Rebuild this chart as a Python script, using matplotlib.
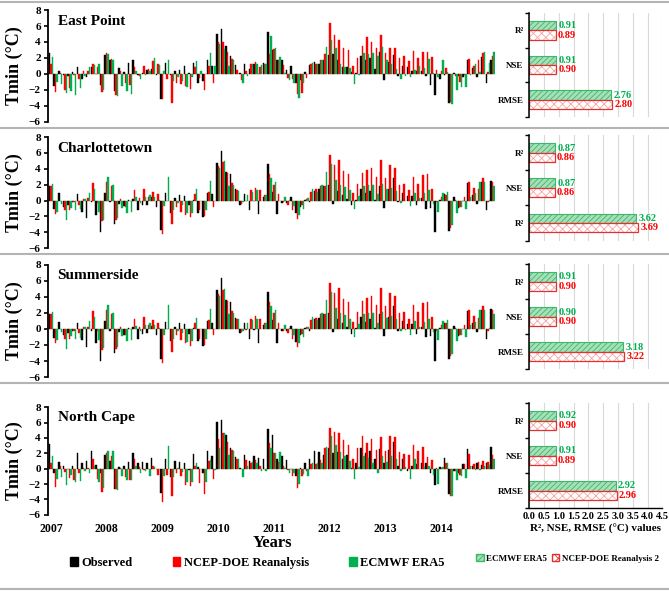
import matplotlib
matplotlib.use('Agg')
import matplotlib.pyplot as plt
from matplotlib.patches import Patch
from matplotlib.lines import Line2D
import numpy as np

plt.rcParams['font.family'] = ['Liberation Serif', 'DejaVu Serif']
plt.rcParams['font.weight'] = 'bold'
plt.rcParams['hatch.linewidth'] = 0.6

# Monthly Tmin anomalies (2007-2014), 96 months per series
years = ['2007', '2008', '2009', '2010', '2011', '2012', '2013', '2014']

ep_obs = [2.6, -1.5, 0.3, -0.1, -0.3, 0.2, 0.9, -0.7, -0.4, 0.9, 0.0, -1.4,
          2.4, 1.7, -2.2, 0.7, 0.2, 1.4, 1.8, -0.2, 0.1, 0.5, 0.6, -0.1,
          -3.1, 1.4, -0.2, 0.3, 0.5, 1.0, 0.1, 1.4, -1.1, -0.9, 1.7, 1.0,
          5.0, 5.6, 3.5, 2.3, 1.1, 0.1, 1.3, 0.6, 1.3, 0.0, 1.4, 5.3,
          3.0, 1.7, 1.7, 0.5, 1.0, -1.1, -0.8, 0.2, 1.1, 1.5, 1.2, 1.8,
          2.4, 2.5, 1.8, 0.9, 0.8, 0.2, 0.1, 2.3, 1.7, 2.0, 0.6, 2.7,
          -0.8, 1.5, 2.4, -0.3, 1.0, 0.9, 0.4, 0.4, 0.4, -0.3, -1.4, -2.7,
          -0.7, -0.1, -3.6, 0.1, -0.3, -0.4, 1.8, 0.7, -0.4, 2.1, -1.2, 1.7]
ep_ncep = [1.2, -2.3, 0.1, -2.0, -1.8, -0.1, -0.7, 0.4, 0.3, 1.3, 0.8, -2.3,
           2.6, 1.9, -2.6, 0.3, -1.2, -1.4, 0.9, -0.3, 1.0, 0.6, 1.6, 1.3,
           -3.1, -0.7, -3.6, -1.2, -1.3, -1.5, -1.9, 0.8, -0.5, -2.0, 1.0, -1.1,
           4.0, 4.0, 2.8, 1.9, 0.5, -0.8, 0.3, 1.2, 1.5, 0.8, 1.3, 2.5,
           3.1, 1.7, 1.1, -0.5, -0.6, -2.5, -2.4, -0.5, 1.2, 1.3, 1.8, 2.5,
           6.4, 4.9, 4.2, 3.2, 3.0, 1.0, 2.0, 3.5, 4.6, 4.0, 3.3, 4.9,
           2.6, 3.3, 3.2, 2.0, 2.2, 1.6, 2.9, 2.0, 2.7, 2.8, 2.1, 0.5,
           0.3, 0.7, -3.5, -0.3, -1.0, -0.2, 1.9, 1.0, 1.8, 2.6, 0.2, 2.3]
ep_era5 = [2.1, -1.0, -1.3, -2.4, -2.2, -2.6, -1.8, -0.3, 0.8, 1.1, 1.2, -2.0,
           2.5, 1.8, -2.8, -1.5, -2.1, -2.5, 0.4, -0.7, -0.2, 0.4, 2.0, 1.1,
           0.3, 1.7, -0.9, -0.4, -0.9, -1.7, -0.4, 1.6, 0.4, 0.0, 2.6, 1.0,
           3.7, 3.1, 1.0, 1.7, 0.0, -1.2, -0.3, 1.2, 1.3, 1.1, 1.2, 4.7,
           3.2, 2.1, 0.1, -0.8, -1.2, -3.0, -1.2, 0.0, 1.4, 1.2, 1.7, 3.4,
           4.2, 3.2, 1.3, 0.9, 0.7, -1.3, -0.2, 2.6, 2.5, 2.6, 2.3, 3.4,
           1.7, 1.3, 0.6, -0.6, -0.3, -0.4, 0.5, 1.0, 0.7, 1.9, 0.1, -0.4,
           1.7, 0.2, -3.8, -2.0, -1.7, -1.7, -0.2, 1.2, 0.2, 2.8, 1.4, 2.8]

ch_obs = [1.9, -1.1, 0.9, -0.8, -0.5, -0.2, 0.8, -1.4, -2.2, -0.2, -1.8, -4.0,
          1.0, -0.2, -3.0, -0.4, -0.7, 0.1, 0.2, -1.2, -0.6, -0.5, 0.4, -0.8,
          -3.7, 0.9, -1.5, 0.3, 0.7, 0.6, -0.6, 0.1, -1.5, -2.1, 1.0, 0.8,
          4.8, 6.3, 3.6, 3.3, 1.4, -0.5, 0.8, -1.2, -0.1, -1.7, 0.5, 4.6,
          1.1, -1.7, -0.3, -0.3, 0.4, -1.6, -0.8, 0.1, -0.2, 1.2, 1.4, 1.9,
          2.0, -0.4, 1.2, 0.7, 0.2, -0.6, 0.1, 1.5, 0.9, 1.2, 0.1, 1.9,
          -0.9, 1.5, 2.9, -0.2, 1.0, 0.6, 0.6, -0.6, 0.3, -1.0, -0.9, -4.0,
          0.1, 0.8, -3.8, 0.4, -0.9, 0.0, 2.2, 0.7, -0.4, 2.4, -1.2, 2.5]
ch_ncep = [1.9, -1.7, 0.0, -1.2, -1.2, -0.2, -0.5, 0.2, 0.3, 2.2, -0.3, -2.6,
           2.3, 1.9, -2.5, 0.2, -0.8, 0.0, 1.3, 0.3, 1.5, 0.5, 1.1, 0.8,
           -4.2, 0.0, -2.9, -0.8, -1.4, -1.8, -2.1, 0.8, -1.2, -2.0, 1.1, -0.8,
           4.3, 4.9, 3.5, 2.2, 1.3, -0.4, -0.1, 1.3, 1.6, 1.3, 0.7, 3.3,
           2.0, 0.8, -0.2, -0.5, -1.2, -2.3, -0.6, 0.2, 1.1, 1.4, 1.9, 1.9,
           5.7, 4.5, 5.1, 3.7, 3.3, 0.9, 2.1, 3.5, 3.8, 4.1, 3.0, 5.1,
           2.8, 4.5, 4.1, 2.0, 2.1, 1.3, 3.0, 2.1, 3.2, 3.3, 1.5, -0.2,
           0.5, 0.7, -3.4, 0.1, -0.8, 0.5, 2.3, 1.6, 1.4, 2.8, -0.2, 2.4]
ch_era5 = [2.1, -1.4, -0.4, -2.5, -0.9, -1.2, -1.1, 0.2, 1.0, 1.5, -1.4, -2.4,
           3.0, 2.0, -2.2, -0.9, -1.5, -1.4, 0.4, -0.3, 0.5, 0.7, 0.5, 0.1,
           -0.7, 3.0, -1.2, -0.3, -0.5, -1.6, -1.5, 1.4, 0.0, -1.2, 2.5, 0.0,
           4.1, 5.0, 1.8, 2.0, 1.2, -0.2, 0.7, 1.1, 1.3, 0.0, 0.7, 2.8,
           2.4, 0.0, 0.5, 0.1, -0.7, -1.8, -1.0, 0.3, 1.5, 1.1, 2.0, 3.6,
           4.6, 2.6, 2.0, 1.7, 1.3, -1.0, 0.6, 1.9, 2.0, 2.0, 0.8, 2.1,
           1.4, 1.6, 1.2, -0.3, -0.1, -0.7, 1.0, 0.3, 0.9, 1.3, -0.4, -1.4,
           1.0, 1.1, -3.1, -1.5, -0.8, -1.0, 0.5, 0.9, 2.4, 2.3, 0.1, 1.8]

# Summerside bars look the same as Charlottetown in the source figure
su_obs = list(ch_obs)
su_ncep = list(ch_ncep)
su_era5 = list(ch_era5)

nc_obs = [3.2, -0.5, 0.9, 0.3, 0.0, 0.3, 2.0, 0.8, 1.0, 2.3, 0.5, -0.5,
          1.8, 1.0, -2.6, 0.2, 0.4, 0.9, 2.1, 0.7, 0.9, 0.8, 1.4, -0.1,
          -3.2, 1.2, -1.1, 1.0, 0.9, 0.7, -0.2, 1.9, 0.2, -0.6, 2.3, 1.7,
          6.1, 6.3, 4.4, 2.7, 1.5, 0.1, 1.8, 1.0, 1.6, 1.4, 1.3, 5.2,
          4.4, 1.2, 1.6, 1.1, 0.0, -0.9, 0.1, 0.8, 1.3, 2.3, 2.2, 1.8,
          2.7, 2.0, 2.2, 1.2, 1.8, 0.1, 0.8, 2.7, 2.1, 2.3, 1.2, 2.5,
          0.8, 2.4, 3.5, 0.4, 1.2, -0.3, 0.3, 0.6, 0.8, 0.7, -0.5, -2.1,
          0.2, 1.4, -3.3, -0.3, -0.5, 0.6, 2.6, 0.3, 0.7, 0.5, 0.8, 2.8]
nc_ncep = [0.8, -2.4, 0.3, -0.4, -1.2, -1.5, -0.5, 0.1, 0.1, 1.3, -1.3, -3.0,
           2.0, 1.6, -2.7, 0.1, -1.1, -1.5, 1.2, 0.2, -0.2, 0.0, 0.4, -0.8,
           -4.4, -0.8, -3.5, -0.5, -0.9, -2.1, -2.3, 0.4, -1.9, -3.3, 1.0, -1.3,
           3.8, 4.6, 3.5, 2.4, 1.3, 0.0, 1.1, 0.7, 1.1, 0.4, 0.0, 3.4,
           2.0, 0.9, 0.3, -0.2, -0.9, -2.5, -1.0, -0.3, 0.6, 0.6, 1.1, 2.7,
           5.3, 4.8, 4.7, 3.7, 3.1, 1.3, 2.7, 4.2, 3.4, 3.8, 2.4, 4.1,
           2.3, 4.3, 4.1, 2.2, 1.9, 1.8, 3.1, 2.3, 2.8, 1.5, 1.1, 0.1,
           0.1, 0.8, -3.5, -0.3, -0.8, 0.6, 1.9, 0.6, 0.9, 1.0, 0.9, 1.8]
nc_era5 = [1.6, -1.4, -1.1, -2.1, -0.8, -1.8, -1.6, -0.3, -0.6, 0.4, -1.8, -2.5,
           2.3, 2.3, -2.8, -0.9, -1.5, -1.5, 0.3, -0.5, -0.3, -0.9, 0.2, -0.1,
           -0.9, 3.0, -1.1, 0.1, -0.4, -1.7, -1.7, 0.7, 0.0, -1.8, 1.1, -0.2,
           2.7, 4.7, 1.8, 2.3, 1.2, -1.1, 0.4, 0.9, 0.8, -0.3, -0.3, 2.7,
           2.0, 2.2, 0.1, -0.6, -0.6, -2.0, -0.7, -0.9, 0.8, 0.8, 0.7, 2.8,
           4.2, 3.1, 2.2, 1.6, 1.0, -1.3, 0.2, 1.6, 1.4, 0.8, -0.5, 1.6,
           0.9, 1.7, 1.3, -0.3, 0.2, -1.3, 1.2, -0.1, 0.2, 0.3, -0.8, -2.0,
           0.2, 0.8, -3.6, -1.5, -1.0, -1.2, 0.4, -0.2, -0.2, 0.3, 0.5, 1.2]

# Performance statistics (R2, NSE, RMSE)
stat_labels = ['R²', 'NSE', 'RMSE']
stat_labels_ch = ['R²', 'NSE', 'R²']
ep_stats_era5 = [0.91, 0.91, 2.76]
ep_stats_ncep = [0.89, 0.90, 2.80]
ch_stats_era5 = [0.87, 0.87, 3.62]
ch_stats_ncep = [0.86, 0.86, 3.69]
su_stats_era5 = [0.91, 0.90, 3.18]
su_stats_ncep = [0.90, 0.90, 3.22]
nc_stats_era5 = [0.92, 0.91, 2.92]
nc_stats_ncep = [0.90, 0.89, 2.96]

C_OBS = 'black'
C_NCEP = '#ff0000'
C_ERA5 = '#00b050'
ERA_FACE = '#a6dfb8'
ERA_EDGE = '#3cb86a'
NCEP_HATCH = '#f4a6a6'
NCEP_EDGE = '#e53030'


def draw_series(ax, obs, ncep, era5, name, last=False):
    x = np.arange(len(obs))
    w = 0.32
    ax.bar(x - w, obs, w, color=C_OBS, edgecolor=C_OBS, linewidth=0.3)
    ax.bar(x, ncep, w, color=C_NCEP, edgecolor=C_NCEP, linewidth=0.3)
    ax.bar(x + w, era5, w, color=C_ERA5, edgecolor=C_ERA5, linewidth=0.3)
    ax.set_xlim(-0.7, 95.6)
    ax.set_ylim(-6, 8)
    ax.set_yticks(range(-6, 9, 2))
    for s in ['top', 'right', 'bottom']:
        ax.spines[s].set_visible(False)
    ax.spines['left'].set_linewidth(1.3)
    ax.tick_params(axis='y', direction='out', length=3, width=1.2, labelsize=8, pad=2)
    ax.set_ylabel('Tmin (°C)', fontsize=13, fontweight='bold', labelpad=4)
    ax.text(0.022, 0.9, name, transform=ax.transAxes, fontsize=11,
            fontweight='bold', va='center')
    if last:
        ax.set_xticks(np.arange(len(years)) * 12)
        ax.set_xticklabels(years, fontsize=8.5, fontweight='bold')
        ax.tick_params(axis='x', length=0, pad=6)
    else:
        ax.set_xticks([])


def draw_stats(ax, era5_vals, ncep_vals, labels, last=False):
    y = np.arange(3)
    h = 0.27
    ax.set_axisbelow(True)
    ax.grid(axis='x', color='#d9d9d9', linewidth=0.8)
    ax.barh(y - h / 2, era5_vals, h, color=ERA_FACE, edgecolor=ERA_EDGE,
            hatch='//////', linewidth=0.8)
    ax.barh(y + h / 2, ncep_vals, h, color='white', edgecolor=NCEP_HATCH,
            hatch='xxxx', linewidth=0)
    ax.barh(y + h / 2, ncep_vals, h, fill=False, edgecolor=NCEP_EDGE, linewidth=0.9)
    for i in range(3):
        ax.text(era5_vals[i] + 0.08, y[i] - h / 2, f'{era5_vals[i]:.2f}', color=C_ERA5,
                va='center', fontsize=7.5, fontweight='bold')
        ax.text(ncep_vals[i] + 0.08, y[i] + h / 2, f'{ncep_vals[i]:.2f}', color=C_NCEP,
                va='center', fontsize=7.5, fontweight='bold')
    ax.set_xlim(0, 4.5)
    ax.set_ylim(2.5, -0.5)
    ax.set_yticks([-0.5, 0.5, 1.5, 2.5])
    ax.set_yticklabels([])
    ax.set_yticks(y, minor=True)
    ax.set_yticklabels(labels, minor=True, fontsize=6.5, fontweight='bold')
    ax.tick_params(axis='y', which='major', direction='out', length=3, width=1)
    ax.tick_params(axis='y', which='minor', length=0, pad=4)
    ax.spines['top'].set_visible(False)
    ax.spines['right'].set_visible(False)
    ax.spines['left'].set_linewidth(1.1)
    ax.set_xticks(np.arange(0, 4.51, 0.5))
    if last:
        ax.spines['bottom'].set_linewidth(1.0)
        ax.set_xticklabels([f'{v:.1f}' for v in np.arange(0, 4.51, 0.5)],
                           fontsize=7.5, fontweight='bold')
        ax.tick_params(axis='x', length=0, pad=3)
        ax.set_xlabel('R², NSE, RMSE (°C) values', fontsize=8, fontweight='bold', labelpad=2)
    else:
        ax.spines['bottom'].set_visible(False)
        ax.set_xticklabels([])
        ax.tick_params(axis='x', length=0)


fig = plt.figure(figsize=(6.69, 5.91), dpi=100)

left_rects = [[0.0713, 0.794, 0.669, 0.189],
              [0.0713, 0.580, 0.669, 0.188],
              [0.0713, 0.362, 0.669, 0.190],
              [0.0713, 0.129, 0.669, 0.182]]
right_rects = [[0.791, 0.802, 0.199, 0.176],
               [0.791, 0.593, 0.199, 0.178],
               [0.791, 0.375, 0.199, 0.178],
               [0.791, 0.140, 0.199, 0.178]]

panels = [
    ('East Point', ep_obs, ep_ncep, ep_era5, ep_stats_era5, ep_stats_ncep, stat_labels),
    ('Charlottetown', ch_obs, ch_ncep, ch_era5, ch_stats_era5, ch_stats_ncep, stat_labels_ch),
    ('Summerside', su_obs, su_ncep, su_era5, su_stats_era5, su_stats_ncep, stat_labels),
    ('North Cape', nc_obs, nc_ncep, nc_era5, nc_stats_era5, nc_stats_ncep, stat_labels),
]

for k, (name, o, n, e, se, sn, labs) in enumerate(panels):
    last = k == len(panels) - 1
    ax = fig.add_axes(left_rects[k])
    draw_series(ax, o, n, e, name, last)
    axr = fig.add_axes(right_rects[k])
    draw_stats(axr, se, sn, labs, last)

# Gray separators between the station rows
for ypx in [2, 128, 254, 383, 589]:
    yf = 1 - ypx / 591
    fig.add_artist(Line2D([0, 1], [yf, yf], color='#b4b4b4', linewidth=1.5))

fig.text(0.407, 0.081, 'Years', ha='center', va='center', fontsize=12, fontweight='bold')

h_left = [Patch(color=C_OBS), Patch(color=C_NCEP), Patch(color=C_ERA5)]
fig.legend(h_left, ['Observed', 'NCEP-DOE Reanalysis', 'ECMWF ERA5'],
           loc='center', bbox_to_anchor=(0.385, 0.047), ncol=3, frameon=False,
           prop={'size': 9, 'weight': 'bold'}, handlelength=0.6, handleheight=0.7,
           handletextpad=0.3, columnspacing=3.2)

h_right = [Patch(facecolor=ERA_FACE, edgecolor=ERA_EDGE, hatch='//////'),
           Patch(facecolor='white', edgecolor=NCEP_EDGE, hatch='xxxx')]
fig.legend(h_right, ['ECMWF ERA5', 'NCEP-DOE Reanalysis 2'],
           loc='center left', bbox_to_anchor=(0.712, 0.055), ncol=2, frameon=False,
           prop={'size': 6.5, 'weight': 'bold'}, handlelength=0.8, handleheight=0.8,
           handletextpad=0.3, columnspacing=0.5, borderaxespad=0, borderpad=0)

plt.savefig('out.png', dpi=100)
